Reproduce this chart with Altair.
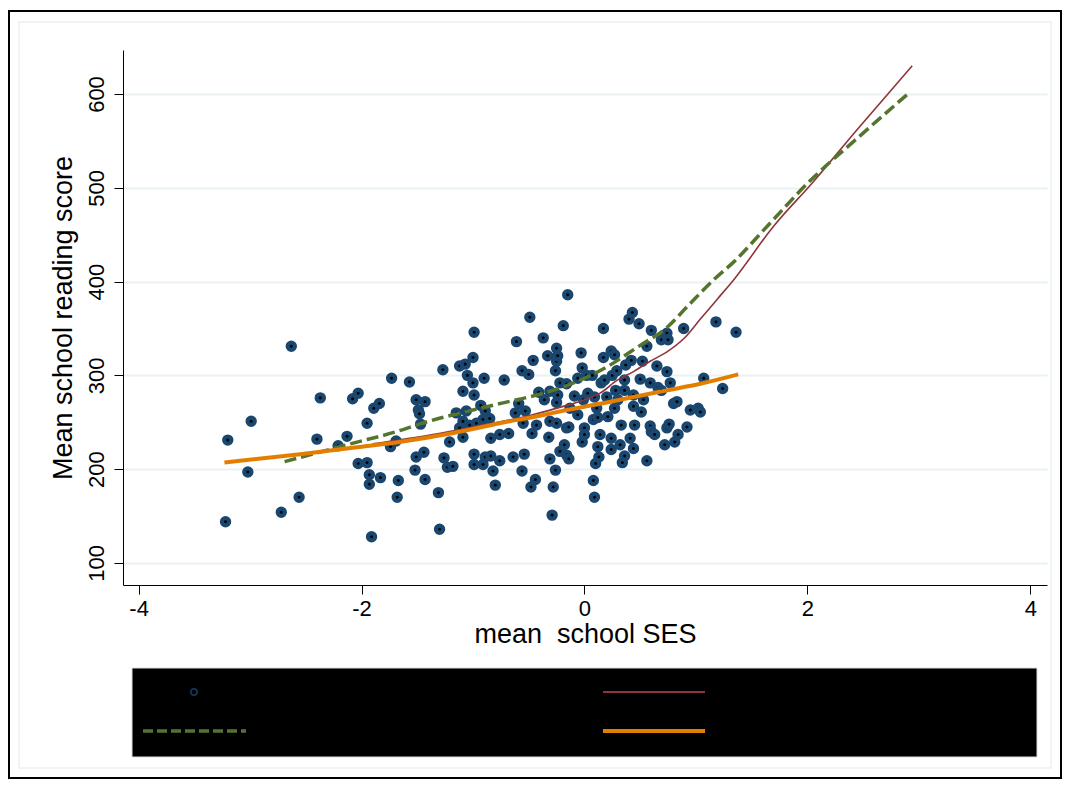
import altair as alt
import pandas as pd

# ---- scatter: mean school SES vs mean school reading score ----
ses = [-3.22, -3.20, -3.02, -2.99, -2.72, -2.63, -2.56, -2.40, -2.37, -2.21, -2.13, -2.08, -2.03, -2.03,
       -1.95, -1.95, -1.93, -1.93, -1.91, -1.89, -1.84, -1.83, -1.74, -1.73, -1.69, -1.68, -1.67, -1.57,
       -1.52, -1.51, -1.51, -1.49, -1.48, -1.47, -1.44, -1.43, -1.43, -1.31, -1.30, -1.27, -1.26, -1.23,
       -1.21, -1.18, -1.15, -1.12, -1.12, -1.09, -1.09, -1.09, -1.07, -1.06, -1.05, -1.03, -1.00, -1.00,
       -0.99, -0.99, -0.99, -0.99, -0.97, -0.93, -0.91, -0.91, -0.90, -0.89, -0.89, -0.85, -0.84, -0.84,
       -0.82, -0.80, -0.76, -0.76, -0.72, -0.68, -0.64, -0.62, -0.61, -0.59, -0.56, -0.56, -0.55, -0.54,
       -0.53, -0.50, -0.49, -0.48, -0.47, -0.46, -0.44, -0.43, -0.41, -0.37, -0.36, -0.33, -0.32, -0.31,
       -0.31, -0.31, -0.29, -0.28, -0.26, -0.26, -0.25, -0.25, -0.25, -0.25, -0.24, -0.24, -0.22, -0.22,
       -0.19, -0.18, -0.16, -0.16, -0.16, -0.15, -0.14, -0.14, -0.13, -0.09, -0.06, -0.06, -0.03, -0.02,
       -0.02, -0.01, 0.00, 0.00, 0.02, 0.03, 0.07, 0.08, 0.08, 0.09, 0.09, 0.10, 0.11, 0.12, 0.12, 0.13,
       0.14, 0.15, 0.17, 0.17, 0.18, 0.20, 0.21, 0.24, 0.24, 0.24, 0.25, 0.27, 0.27, 0.28, 0.29, 0.30,
       0.32, 0.33, 0.34, 0.36, 0.36, 0.36, 0.37, 0.40, 0.41, 0.42, 0.43, 0.44, 0.44, 0.44, 0.45, 0.49,
       0.50, 0.51, 0.52, 0.53, 0.56, 0.56, 0.59, 0.59, 0.60, 0.60, 0.63, 0.65, 0.66, 0.69, 0.69, 0.72,
       0.74, 0.74, 0.74, 0.75, 0.76, 0.77, 0.80, 0.81, 0.83, 0.84, 0.89, 0.92, 0.95, 1.02, 1.04, 1.07,
       1.18, 1.24, 1.36]
reading = [144, 231, 197, 251, 154, 331, 170, 232, 276, 225, 235, 275, 281, 206,
           249, 207, 194, 184, 128, 265, 270, 191, 224, 297, 230, 170, 188, 293,
           199, 274, 213, 263, 259, 248, 218, 272, 189, 175, 136, 306, 212, 202,
           229, 203, 260, 310, 244, 283, 251, 234, 312, 262, 300, 247, 319, 292,
           346, 279, 216, 205, 249, 268, 253, 205, 297, 262, 213, 254, 233, 214,
           198, 183, 237, 209, 295, 238, 213, 260, 336, 270, 305, 198, 249, 216,
           262, 301, 362, 181, 238, 316, 189, 247, 282, 340, 274, 321, 234, 283,
           251, 211, 151, 181, 305, 199, 329, 315, 271, 249, 321, 279, 292, 219,
           353, 226, 291, 244, 215, 386, 245, 211, 265, 278, 297, 258, 324, 308,
           229, 274, 244, 237, 300, 281, 300, 253, 188, 277, 170, 206, 265, 255, 224, 213,
           237, 292, 350, 319, 295, 277, 256, 326, 233, 221, 300, 322, 265, 284, 305, 274,
           226, 247, 207, 295, 284, 214, 311, 360, 233, 316, 367, 279, 267, 222, 247, 355,
           296, 261, 315, 274, 331, 209, 292, 246, 348, 240, 237, 310, 287, 338, 284, 226,
           345, 304, 244, 338, 248, 292, 270, 229, 272, 237, 350, 245, 263, 265, 261, 297,
           357, 286, 346]

# ---- fitted curves ----
red_x = [-1.90, -1.36, -1.00, -0.50, -0.16, 0.00, 0.14, 0.20, 0.26, 0.44, 0.59, 0.74, 0.89, 1.04,
         1.19, 1.34, 1.69, 2.05, 2.44, 2.94]
red_y = [227, 237, 245, 257, 268, 274, 281, 286, 292, 304, 315, 325, 339, 360,
         381, 402, 458, 506, 561, 630]

green_x = [-2.69, -2.10, -1.66, -1.51, -0.79, -0.40, -0.16, 0.20, 0.50, 0.74, 0.92, 1.16, 1.34,
           1.64, 2.02, 2.45, 2.92]
green_y = [208, 227, 241, 247, 269, 280, 289, 309, 332, 351, 373, 402, 421,
           459, 507, 553, 602]

orange_x = [-3.23, -2.55, -2.00, -1.66, -1.20, -0.76, -0.40, -0.16, 0.20, 0.44, 0.74, 1.04, 1.38]
orange_y = [207, 216, 224, 229, 238, 249, 257, 263, 271, 277, 284, 291, 301]

legend_labels = ["Mean school reading score", "Fitted values",
                 "Lowess smoother", "Fitted values, random effects"]

FONT = "Liberation Sans"
NAVY = "#1a476f"
MAROON = "#90353b"
GREEN = "#55752f"
ORANGE = "#e37e00"
GRID = "#eaf2f3"

W, H = 924, 535
xs = alt.Scale(domain=[-4.14, 4.15], nice=False, zero=False)
ys = alt.Scale(domain=[76.5, 646.9], nice=False, zero=False)

xaxis = alt.Axis(values=[-4, -2, 0, 2, 4], title="mean\u00a0 school SES", grid=False,
                 tickSize=9, tickColor="black", domainColor="black", labelColor="black",
                 labelFontSize=22, titleFontSize=27, labelFont=FONT, titleFont=FONT,
                 titleFontWeight="normal", labelPadding=4, titlePadding=2,
                 labelExpr="datum.value")
yaxis = alt.Axis(values=[100, 200, 300, 400, 500, 600], title="Mean school reading score",
                 grid=True, gridColor=GRID, gridWidth=2,
                 tickSize=9, tickColor="black", domainColor="black", labelColor="black",
                 labelFontSize=22, titleFontSize=27, labelFont=FONT, titleFont=FONT,
                 titleFontWeight="normal", labelAngle=-90, labelAlign="center",
                 labelBaseline="bottom", labelPadding=6, titlePadding=8,
                 labelExpr="datum.value")

def X():
    return alt.X("x:Q", scale=xs, axis=xaxis)

def Y():
    return alt.Y("y:Q", scale=ys, axis=yaxis)

scatter_df = pd.DataFrame({"x": ses, "y": reading})
red_df = pd.DataFrame({"x": red_x, "y": red_y})
green_df = pd.DataFrame({"x": green_x, "y": green_y})
orange_df = pd.DataFrame({"x": orange_x, "y": orange_y})
one = pd.DataFrame({"k": [0]})

points = alt.Chart(scatter_df).mark_point(
    shape="circle", filled=True, fill="black", stroke=NAVY, strokeWidth=4.2,
    size=52, opacity=1).encode(x=X(), y=Y())
red = alt.Chart(red_df).mark_line(color=MAROON, strokeWidth=1.6, interpolate="monotone").encode(x=X(), y=Y())
green = alt.Chart(green_df).mark_line(color=GREEN, strokeWidth=3.5, strokeDash=[12, 5],
                                      interpolate="monotone").encode(x=X(), y=Y())
orange = alt.Chart(orange_df).mark_line(color=ORANGE, strokeWidth=4, interpolate="monotone").encode(x=X(), y=Y())

# outer graph frame (decoration)
frame = alt.Chart(one).mark_rect(fill="white", fillOpacity=0, stroke="black", strokeWidth=2).encode(
    x=alt.value(-114), x2=alt.value(938), y=alt.value(-39), y2=alt.value(728))
inner = alt.Chart(one).mark_rect(fill="white", fillOpacity=0, stroke=GRID, strokeWidth=1.5).encode(
    x=alt.value(-104), x2=alt.value(928), y=alt.value(-28), y2=alt.value(718))

# legend (black box, black labels)
lbox = alt.Chart(one).mark_rect(fill="black", stroke="#dddddd", strokeWidth=1).encode(
    x=alt.value(9), x2=alt.value(914), y=alt.value(618), y2=alt.value(707))
lsym_pt = alt.Chart(one).mark_point(shape="circle", filled=False, stroke=NAVY, strokeWidth=2,
                                    size=40).encode(x=alt.value(71), y=alt.value(642))
lsym_red = alt.Chart(one).mark_rule(color=MAROON, strokeWidth=2).encode(
    x=alt.value(480), x2=alt.value(582), y=alt.value(642))
lsym_green = alt.Chart(one).mark_rule(color=GREEN, strokeWidth=3.5, strokeDash=[10, 4]).encode(
    x=alt.value(20), x2=alt.value(123), y=alt.value(681))
lsym_orange = alt.Chart(one).mark_rule(color=ORANGE, strokeWidth=4).encode(
    x=alt.value(480), x2=alt.value(582), y=alt.value(681))
ltexts = []
for lab, (px, py) in zip(legend_labels, [(141, 642), (596, 642), (141, 681), (596, 681)]):
    ltexts.append(alt.Chart(one).mark_text(align="left", baseline="middle", font=FONT,
                                           fontSize=20, color="black").encode(
        x=alt.value(px), y=alt.value(py), text=alt.value(lab)))

chart = alt.layer(
    frame, inner, points, red, green, orange,
    lbox, lsym_pt, lsym_red, lsym_green, lsym_orange, *ltexts
).properties(
    width=W, height=H,
    padding={"left": 115, "top": 42, "right": 16, "bottom": 195},
    autosize=alt.AutoSizeParams(type="none"),
    background="white",
).configure_view(stroke=None)

chart.save("out.html", embed_options={"renderer": "svg", "actions": False})
